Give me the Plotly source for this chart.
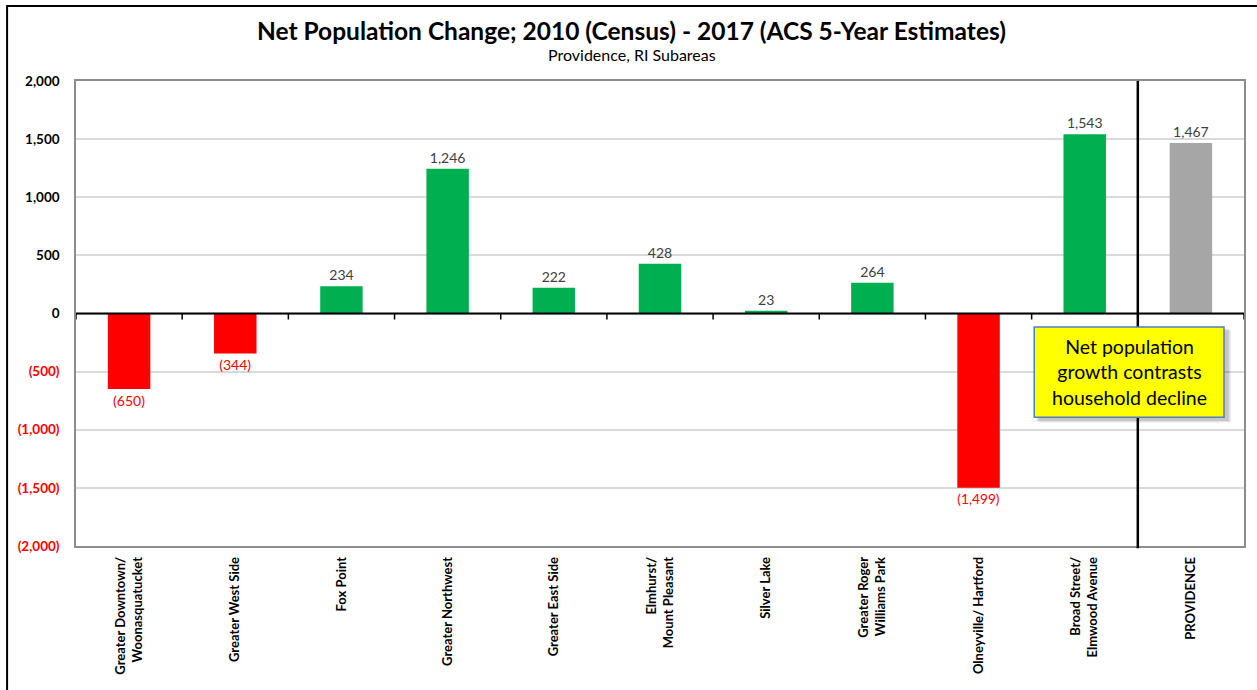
import plotly.graph_objects as go

# Net population change by subarea, 2010 Census to 2017 ACS 5-year
categories = [
    "Greater Downtown/<br>Woonasquatucket",
    "Greater West Side",
    "Fox Point",
    "Greater Northwest",
    "Greater East Side",
    "Elmhurst/<br>Mount Pleasant",
    "Silver Lake",
    "Greater Roger<br>Williams Park",
    "Olneyville/ Hartford",
    "Broad Street/<br>Elmwood Avenue",
    "PROVIDENCE",
]
net_change = [-650, -344, 234, 1246, 222, 428, 23, 264, -1499, 1543, 1467]

y_ticks = [2000, 1500, 1000, 500, 0, -500, -1000, -1500, -2000]

GREEN = "#00B050"
RED = "#FF0000"
GREY = "#A6A6A6"
FONT = "Lato"


def fmt(v):
    s = f"{abs(v):,}"
    return f"({s})" if v < 0 else s


def bar_color(i, v):
    if categories[i] == "PROVIDENCE":
        return GREY
    return GREEN if v >= 0 else RED


colors = [bar_color(i, v) for i, v in enumerate(net_change)]
label_colors = ["#404040" if v >= 0 else RED for v in net_change]

tick_text = []
for t in y_ticks:
    if t < 0:
        tick_text.append(f"<span style='color:{RED}'><b>{fmt(t)}</b></span>")
    else:
        tick_text.append(f"<b>{fmt(t)}</b>")

fig = go.Figure(
    go.Bar(
        x=list(range(len(categories))),
        y=net_change,
        marker=dict(color=colors, line=dict(width=0)),
        width=0.4,
        text=[fmt(v) for v in net_change],
        textposition="outside",
        textfont=dict(family=FONT, size=14, color=label_colors),
        cliponaxis=False,
    )
)

shapes = []
# short tick marks hanging from the zero line at category boundaries
for b in range(len(categories) + 1):
    shapes.append(dict(
        type="line", xref="x", yref="y", x0=b - 0.5, x1=b - 0.5,
        ysizemode="pixel", yanchor=0, y0=0, y1=-6,
        line=dict(color="black", width=1.5),
    ))
# zero baseline
shapes.append(dict(type="line", xref="paper", yref="y", x0=0, x1=1, y0=0, y1=0,
                   line=dict(color="black", width=2)))
# divider between subareas and the city total
split = len(categories) - 1.5
shapes.append(dict(type="line", xref="x", yref="paper", x0=split, x1=split,
                   y0=-0.005, y1=1, line=dict(color="black", width=2.5)))
# callout box with soft drop shadow
for k, a in enumerate([0.06, 0.08, 0.10]):
    d = 0.004 - 0.001 * k
    shapes.append(dict(type="rect", xref="paper", yref="paper",
                       x0=0.8204 + d, x1=0.9829 + d + 0.002, y0=0.277 - 2 * d - 0.004, y1=0.471 - 2 * d,
                       fillcolor=f"rgba(0,0,0,{a})", line=dict(width=0)))
shapes.append(dict(type="rect", xref="paper", yref="paper",
                   x0=0.8204, x1=0.9829, y0=0.277, y1=0.471,
                   fillcolor="#FFFF00", line=dict(color="#4F7FC0", width=1.5)))
# outer frame
shapes.append(dict(type="rect", xref="paper", yref="paper",
                   x0=-0.0590, x1=1.05, y0=-0.4, y1=1.1613,
                   line=dict(color="black", width=2)))

annotations = [
    dict(text="<b>Net Population Change; 2010 (Census) - 2017 (ACS 5-Year Estimates)</b>",
         xref="paper", yref="paper", x=0.476, y=1.108, xanchor="center", yanchor="middle",
         showarrow=False, font=dict(family=FONT, size=24.5, color="black")),
    dict(text="Providence, RI Subareas",
         xref="paper", yref="paper", x=0.476, y=1.058, xanchor="center", yanchor="middle",
         showarrow=False, font=dict(family=FONT, size=16, color="black")),
    dict(text="Net population<br>growth contrasts<br>household decline",
         xref="paper", yref="paper", x=0.9017, y=0.374, xanchor="center", yanchor="middle",
         showarrow=False, align="center",
         font=dict(family=FONT, size=19.5, color="black")),
]

fig.update_layout(
    width=1257, height=690,
    margin=dict(l=76, r=13, t=81, b=144),
    paper_bgcolor="white", plot_bgcolor="white",
    showlegend=False,
    shapes=shapes,
    annotations=annotations,
    font=dict(family=FONT),
)
fig.update_xaxes(
    tickvals=list(range(len(categories))), ticktext=[f"<b>{c}</b>" for c in categories],
    tickangle=-90, tickfont=dict(family=FONT, size=13, color="black"),
    range=[-0.5, len(categories) - 0.5],
    showline=True, linecolor="#8C8C8C", linewidth=1.5, mirror=True,
    showgrid=False, zeroline=False, ticks="", ticklabelstandoff=4,
)
fig.update_yaxes(
    range=[-2000, 2000], tickvals=y_ticks, ticktext=tick_text,
    tickfont=dict(family=FONT, size=13.5, color="black"),
    showline=True, linecolor="#8C8C8C", linewidth=1.5, mirror=True,
    showgrid=True, gridcolor="#D9D9D9", gridwidth=1.5,
    zeroline=False, ticks="", ticklabelstandoff=12,
)

fig.write_html("out.html")
